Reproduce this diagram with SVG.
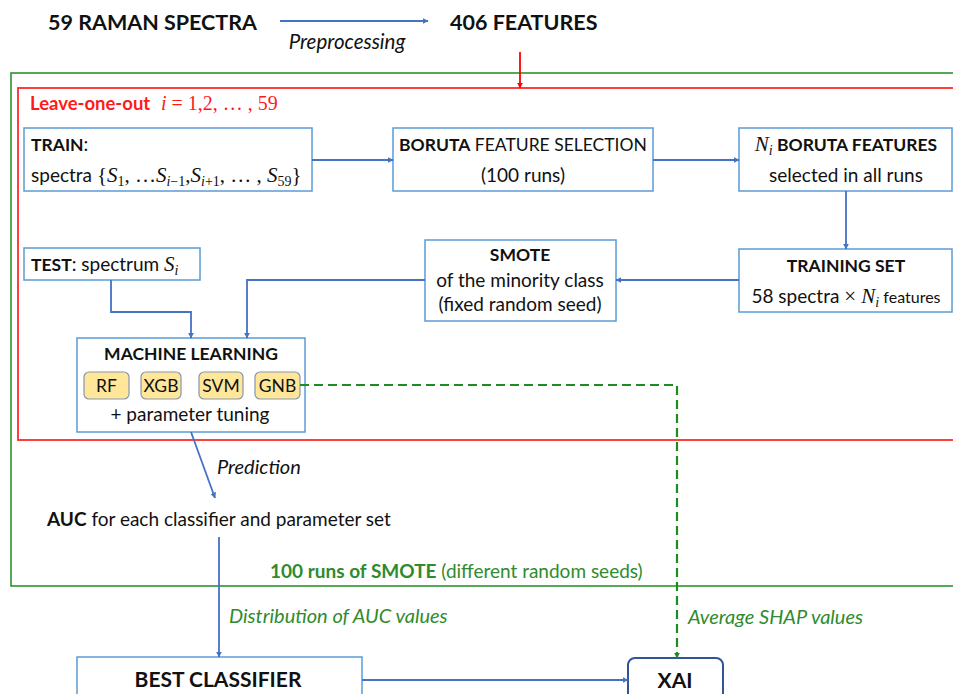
<svg xmlns="http://www.w3.org/2000/svg" width="953" height="694" viewBox="0 0 953 694">
<defs>
<style>
.t{font-family:Lato,"Liberation Sans",sans-serif;font-size:19px;fill:#111}
.c{font-size:17.5px}
.b{font-weight:bold}
.i{font-style:italic}
.m{font-family:"Liberation Serif","DejaVu Serif",serif;font-style:italic;font-weight:normal;font-size:21px}
.mn{font-family:"Liberation Serif","DejaVu Serif",serif;font-style:normal;font-weight:normal;font-size:21px}
.sub{font-size:14px}
.box{fill:#fff;stroke:#5b9bd5;stroke-width:1.5}
.chip{fill:#ffe699;stroke:#8497b0;stroke-width:1.2}
.conn{stroke:#4472c4;stroke-width:1.8;fill:none}
.green{fill:#2e8b2e}
.red{fill:#ff1a1a}
</style>
<marker id="ab" viewBox="0 0 10 10" refX="9" refY="5" markerWidth="6" markerHeight="6" markerUnits="userSpaceOnUse" orient="auto"><path d="M0,0L10,5L0,10z" fill="#4472c4"/></marker>
<marker id="ar" viewBox="0 0 10 10" refX="9" refY="5" markerWidth="6" markerHeight="6" markerUnits="userSpaceOnUse" orient="auto"><path d="M0,0L10,5L0,10z" fill="#ff0000"/></marker>
<marker id="ag" viewBox="0 0 10 10" refX="9" refY="5" markerWidth="6" markerHeight="6" markerUnits="userSpaceOnUse" orient="auto"><path d="M0,0L10,5L0,10z" fill="#1e8c1e"/></marker>
</defs>
<rect width="953" height="694" fill="#fff"/>

<g id="frames">
<rect x="11" y="73" width="960" height="513" fill="none" stroke="#1e8c1e" stroke-width="1.5"/>
<rect x="18" y="88" width="960" height="352" fill="none" stroke="#ff2a2a" stroke-width="1.8"/>
<text x="30" y="110" class="t b red" style="font-size:18.5px">Leave-one-out</text>
<text x="161" y="110" class="t red"><tspan class="m" style="font-size:20px">i</tspan><tspan class="mn" style="font-size:20px"> = 1,2, … , 59</tspan></text>
<text x="270" y="578" class="t green" style="font-size:19px"><tspan class="b">100 runs of SMOTE</tspan> (different random seeds)</text>
</g>

<g id="top">
<text x="48" y="30" class="t b" style="font-size:21.5px">59 RAMAN SPECTRA</text>
<text x="450" y="30" class="t b" style="font-size:21.5px">406 FEATURES</text>
<text x="347" y="49" class="t i" text-anchor="middle" style="font-size:20.5px">Preprocessing</text>
</g>

<g id="train">
<rect x="24" y="128" width="288" height="63" class="box"/>
<text x="31" y="151" class="t"><tspan class="b c">TRAIN</tspan>:</text>
<text x="31" y="182" class="t">spectra <tspan class="mn">{</tspan><tspan class="m">S</tspan><tspan class="mn sub" dy="4">1</tspan><tspan class="mn" dy="-4">, …</tspan><tspan class="m">S</tspan><tspan class="m sub" dy="4">i</tspan><tspan class="mn sub">−1</tspan><tspan class="mn" dy="-4">,</tspan><tspan class="m">S</tspan><tspan class="m sub" dy="4">i</tspan><tspan class="mn sub">+1</tspan><tspan class="mn" dy="-4">, … , </tspan><tspan class="m">S</tspan><tspan class="mn sub" dy="4">59</tspan><tspan class="mn" dy="-4">}</tspan></text>
</g>

<g id="boruta">
<rect x="393" y="128" width="260" height="63" class="box"/>
<text x="523" y="151" class="t c" text-anchor="middle"><tspan class="b">BORUTA</tspan> FEATURE SELECTION</text>
<text x="523" y="182" class="t" text-anchor="middle">(100 runs)</text>
</g>

<g id="ni">
<rect x="739" y="128" width="213" height="63" class="box"/>
<text x="846" y="151" class="t c" text-anchor="middle"><tspan class="m">N</tspan><tspan class="m sub" dy="4">i</tspan><tspan class="b" dy="-4"> BORUTA FEATURES</tspan></text>
<text x="846" y="182" class="t" text-anchor="middle">selected in all runs</text>
</g>

<g id="trainingset">
<rect x="739" y="249" width="213" height="63" class="box"/>
<text x="846" y="272" class="t c b" text-anchor="middle">TRAINING SET</text>
<text x="846" y="303" class="t" text-anchor="middle">58 spectra <tspan class="mn">× </tspan><tspan class="m">N</tspan><tspan class="m sub" dy="4">i</tspan><tspan dy="-4" style="font-size:16px"> features</tspan></text>
</g>

<g id="smote">
<rect x="425" y="240" width="191" height="81" class="box"/>
<text x="520" y="261" class="t c b" text-anchor="middle">SMOTE</text>
<text x="520" y="287" class="t" text-anchor="middle">of the minority class</text>
<text x="520" y="311" class="t" text-anchor="middle">(fixed random seed)</text>
</g>

<g id="test">
<rect x="24" y="248" width="176" height="32" class="box"/>
<text x="31" y="271" class="t"><tspan class="b c">TEST</tspan>: spectrum <tspan class="m">S</tspan><tspan class="m sub" dy="4">i</tspan></text>
</g>

<g id="ml">
<rect x="77" y="338" width="228" height="94" class="box"/>
<text x="191" y="360" class="t c b" text-anchor="middle">MACHINE LEARNING</text>
<rect x="84" y="372" width="45" height="27" rx="5" class="chip"/>
<text x="106.5" y="392" class="t c" text-anchor="middle">RF</text>
<rect x="141" y="372" width="40" height="27" rx="5" class="chip"/>
<text x="161" y="392" class="t c" text-anchor="middle">XGB</text>
<rect x="199" y="372" width="44" height="27" rx="5" class="chip"/>
<text x="221" y="392" class="t c" text-anchor="middle">SVM</text>
<rect x="255" y="372" width="45" height="27" rx="5" class="chip"/>
<text x="277.5" y="392" class="t c" text-anchor="middle">GNB</text>
<text x="190" y="421" class="t" text-anchor="middle">+ parameter tuning</text>
</g>

<g id="auc">
<text x="47" y="526" class="t" style="font-size:19px"><tspan class="b">AUC</tspan> for each classifier and parameter set</text>
</g>

<g id="best">
<rect x="77" y="657" width="285" height="50" class="box"/>
<text x="218" y="687" class="t b" text-anchor="middle" style="font-size:21px">BEST CLASSIFIER</text>
</g>

<g id="xai">
<rect x="628" y="658" width="95" height="50" rx="7" fill="#fff" stroke="#2f5597" stroke-width="2"/>
<text x="675" y="688" class="t b" text-anchor="middle" style="font-size:21px">XAI</text>
</g>

<g id="connectors">
<line x1="280" y1="21" x2="428" y2="21" class="conn" marker-end="url(#ab)"/>
<line x1="520" y1="52" x2="520" y2="88" stroke="#ff0000" stroke-width="1.8" marker-end="url(#ar)"/>
<line x1="312" y1="160" x2="393" y2="160" class="conn" marker-end="url(#ab)"/>
<line x1="653" y1="160" x2="739" y2="160" class="conn" marker-end="url(#ab)"/>
<line x1="846" y1="191" x2="846" y2="249" class="conn" marker-end="url(#ab)"/>
<line x1="739" y1="280" x2="616" y2="280" class="conn" marker-end="url(#ab)"/>
<polyline points="425,280 247,280 247,338" class="conn" marker-end="url(#ab)"/>
<polyline points="111,280 111,312 191,312 191,338" class="conn" marker-end="url(#ab)"/>
<line x1="191" y1="432" x2="215" y2="498" class="conn" stroke-width="1.4" marker-end="url(#ab)"/>
<text x="217" y="474" class="t i" style="font-size:20px">Prediction</text>
<line x1="219" y1="537" x2="219" y2="657" class="conn" stroke-width="1.4" marker-end="url(#ab)"/>
<text x="229" y="623" class="t i green" style="font-size:20px">Distribution of AUC values</text>
<polyline points="300,385 677,385 677,658" fill="none" stroke="#1e8c1e" stroke-width="2.2" stroke-dasharray="9,5" marker-end="url(#ag)"/>
<text x="688" y="624" class="t i green" style="font-size:20px">Average SHAP values</text>
<line x1="362" y1="680" x2="628" y2="680" class="conn" marker-end="url(#ab)"/>
</g>
</svg>
